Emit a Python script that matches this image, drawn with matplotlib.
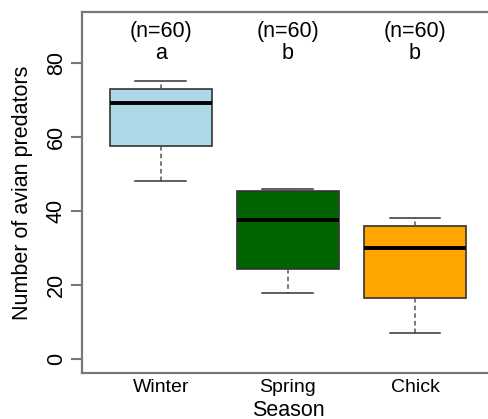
import matplotlib.pyplot as plt

plt.rcParams["font.family"] = ["Liberation Sans", "DejaVu Sans"]

# Data
seasons = ["Winter", "Spring", "Chick"]
n_labels = ["(n=60)", "(n=60)", "(n=60)"]
letters = ["a", "b", "b"]
whisker_low = [48.0, 17.9, 7.0]
q1 = [57.6, 24.2, 16.4]
median = [69.1, 37.6, 30.1]
q3 = [73.0, 45.5, 36.0]
whisker_high = [75.1, 45.9, 38.0]
colors = ["lightblue", "darkgreen", "orange"]

stats = []
for i, name in enumerate(seasons):
    stats.append({
        "label": name,
        "whislo": whisker_low[i],
        "q1": q1[i],
        "med": median[i],
        "q3": q3[i],
        "whishi": whisker_high[i],
        "fliers": []
    })

fig = plt.figure(figsize=(4.88, 4.19), dpi=100)
ax = fig.add_axes([0.168, 0.1098, 0.844, 0.8616])

bp = ax.bxp(
    stats,
    positions=[1, 2, 3],
    widths=0.8,
    patch_artist=True,
    showfliers=False,
    boxprops=dict(edgecolor="#333333", linewidth=1.2),
    medianprops=dict(color="black", linewidth=2.8),
    whiskerprops=dict(color="#555555", linestyle=(0, (3, 2)), linewidth=1.1),
    capprops=dict(color="#333333", linewidth=1.1),
    capwidths=0.4
)

for patch, c in zip(bp["boxes"], colors):
    patch.set_facecolor(c)

for i in range(len(seasons)):
    ax.text(i + 1, 88.6, n_labels[i], ha="center", va="center", fontsize=15.5)
    ax.text(i + 1, 82.7, letters[i], ha="center", va="center", fontsize=15.5)

ax.set_xlim(0.38, 3.62)
ax.set_ylim(-3.8, 93.8)
ax.set_yticks([0, 20, 40, 60, 80])
ax.set_yticklabels(["0", "20", "40", "60", "80"], rotation=90, va="center", fontsize=15.5)
ax.set_xticks([1, 2, 3])
ax.set_xticklabels(seasons, fontsize=14)
ax.tick_params(axis="x", length=0, pad=4)
ax.tick_params(axis="y", length=8, width=1.5, color="#777777", pad=3)

for s in ax.spines.values():
    s.set_color("#777777")
    s.set_linewidth(1.6)

ax.set_ylabel("Number of avian predators", fontsize=15.5, labelpad=9)
ax.set_xlabel("Season", fontsize=15.5, labelpad=3)

fig.savefig("out.png", dpi=100)
